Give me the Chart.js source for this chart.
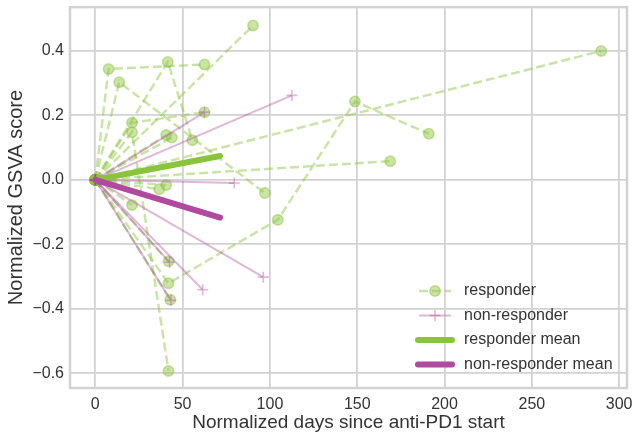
<!DOCTYPE html>
<html><head><meta charset="utf-8">
<script src="https://cdn.jsdelivr.net/npm/chart.js@4.4.1/dist/chart.umd.min.js"></script>
<style>html,body{margin:0;padding:0;background:#fff}#wrap{width:636px;height:442px}</style>
</head><body><div id="wrap"><canvas id="c" width="636" height="442"></canvas></div>
<script>
// ---- data ----
const responderDays = [
  [0, 7.6, 62.5],
  [0, 13.7, 97.1],
  [0, 41.5, 55.6],
  [0, 21.0, 62.5],
  [0, 21.0, 41.9],
  [0, 90.3],
  [0, 289.7],
  [0, 168.9],
  [0, 41.9, 104.5, 148.7, 191.0],
  [0, 40.6],
  [0, 43.8],
  [0, 40.6],
  [0, 36.6],
  [0, 21.0],
  [0, 41.9],
  [0, 42.9]
];
const responderScores = [
  [0, 0.344, 0.358],
  [0, 0.303, -0.041],
  [0, 0.366, 0.123],
  [0, 0.177, 0.210],
  [0, 0.148, -0.593],
  [0, 0.479],
  [0, 0.400],
  [0, 0.058],
  [0, -0.321, -0.124, 0.243, 0.143],
  [0, 0.139],
  [0, 0.131],
  [0, -0.016],
  [0, -0.029],
  [0, -0.078],
  [0, -0.253],
  [0, -0.372]
];
const nonResponderDays = [[0, 62.5], [0, 112.6], [0, 79.6], [0, 61.5], [0, 96.2], [0, 42.5], [0, 43.3]];
const nonResponderScores = [[0, 0.210], [0, 0.262], [0, -0.010], [0, -0.341], [0, -0.302], [0, -0.256], [0, -0.374]];
const meanDays = [0, 71.4];
const responderMeanScores = [0, 0.074];
const nonResponderMeanScores = [0, -0.117];
const xTicks = [0, 50, 100, 150, 200, 250, 300];
const xTickLabels = ['0', '50', '100', '150', '200', '250', '300'];
const yTicks = [-0.6, -0.4, -0.2, 0.0, 0.2, 0.4];
const yTickLabels = ['\u22120.6', '\u22120.4', '\u22120.2', '0.0', '0.2', '0.4'];
const legendLabels = ['responder', 'non-responder', 'responder mean', 'non-responder mean'];
const xTitle = 'Normalized days since anti-PD1 start';
const yTitle = 'Normalized GSVA score';

// ---- styles ----
const GREEN = 'rgb(137,196,60)';
const GREEN_A = 'rgba(137,196,60,0.45)';
const PURPLE = 'rgb(176,74,158)';
const PURPLE_A = 'rgba(176,74,158,0.4)';
const GRID = '#d2d2d2';
const TEXT = '#333333';
const FONT = "'Liberation Sans', Arial, Helvetica, sans-serif";

const toPts = (xs, ys) => xs.map((x, i) => ({x: x, y: ys[i]}));
const datasets = [];
responderDays.forEach((d, i) => datasets.push({
  label: 'responder', data: toPts(d, responderScores[i]), showLine: true,
  borderColor: GREEN_A, backgroundColor: GREEN_A, borderWidth: 2.5, borderDash: [9, 4],
  pointStyle: 'circle', pointRadius: 5.2, pointBorderWidth: 1.6,
  pointBackgroundColor: GREEN_A, pointBorderColor: GREEN_A, order: 3
}));
nonResponderDays.forEach((d, i) => datasets.push({
  label: 'non-responder', data: toPts(d, nonResponderScores[i]), showLine: true,
  borderColor: PURPLE_A, backgroundColor: PURPLE_A, borderWidth: 2,
  pointStyle: 'cross', pointRadius: 5.5, pointBorderWidth: 1.6,
  pointBorderColor: PURPLE_A, order: 2
}));
datasets.push({label: 'responder mean', data: toPts(meanDays, responderMeanScores), showLine: true,
  borderColor: GREEN, borderWidth: 6, borderCapStyle: 'round', pointRadius: 0, order: 1});
datasets.push({label: 'non-responder mean', data: toPts(meanDays, nonResponderMeanScores), showLine: true,
  borderColor: PURPLE, borderWidth: 6, borderCapStyle: 'round', pointRadius: 0, order: 0});

const framePlugin = {
  id: 'frame',
  afterDraw(chart) {
    const {ctx, chartArea: a} = chart;
    ctx.save();
    ctx.strokeStyle = GRID; ctx.lineWidth = 2.5;
    ctx.strokeRect(a.left, a.top, a.right - a.left, a.bottom - a.top);
    ctx.restore();
  }
};
const legendPlugin = {
  id: 'customLegend',
  afterDraw(chart) {
    const ctx = chart.ctx;
    ctx.save();
    const x0 = 419, x1 = 451, tx = 464;
    const ys = [291, 315.5, 340, 364.5];
    // responder
    ctx.strokeStyle = GREEN_A; ctx.lineWidth = 2.5; ctx.setLineDash([9, 4]);
    ctx.beginPath(); ctx.moveTo(x0, ys[0]); ctx.lineTo(x1, ys[0]); ctx.stroke();
    ctx.setLineDash([]);
    ctx.fillStyle = GREEN_A; ctx.lineWidth = 1.6;
    ctx.beginPath(); ctx.arc((x0 + x1) / 2, ys[0], 5.2, 0, Math.PI * 2); ctx.fill(); ctx.stroke();
    // non-responder
    ctx.strokeStyle = PURPLE_A; ctx.lineWidth = 2;
    ctx.beginPath(); ctx.moveTo(x0, ys[1]); ctx.lineTo(x1, ys[1]); ctx.stroke();
    ctx.lineWidth = 1.6; const cx = (x0 + x1) / 2;
    ctx.beginPath(); ctx.moveTo(cx - 5.5, ys[1]); ctx.lineTo(cx + 5.5, ys[1]);
    ctx.moveTo(cx, ys[1] - 5.5); ctx.lineTo(cx, ys[1] + 5.5); ctx.stroke();
    // means
    ctx.lineCap = 'round'; ctx.lineWidth = 6;
    ctx.strokeStyle = GREEN; ctx.beginPath(); ctx.moveTo(x0 - 1, ys[2]); ctx.lineTo(x1 + 1, ys[2]); ctx.stroke();
    ctx.strokeStyle = PURPLE; ctx.beginPath(); ctx.moveTo(x0 - 1, ys[3]); ctx.lineTo(x1 + 1, ys[3]); ctx.stroke();
    // text
    ctx.fillStyle = TEXT; ctx.font = '16px ' + FONT; ctx.textBaseline = 'middle'; ctx.textAlign = 'left';
    legendLabels.forEach((t, i) => ctx.fillText(t, tx, ys[i]));
    ctx.restore();
  }
};

const noPad = s => { s.paddingTop = 0; s.paddingBottom = 0; s.paddingLeft = 0; s.paddingRight = 0; };

new Chart(document.getElementById('c'), {
  type: 'scatter',
  data: {datasets: datasets},
  plugins: [framePlugin, legendPlugin],
  options: {
    responsive: false, animation: false, devicePixelRatio: 1, events: [],
    layout: {padding: {left: 0, top: 6, right: 9, bottom: 0}},
    plugins: {legend: {display: false}, tooltip: {enabled: false}},
    scales: {
      x: {
        type: 'linear', min: -14.5, max: 304.5,
        afterBuildTicks: s => { s.ticks = xTicks.map(v => ({value: v})); },
        afterFit: s => { s.height = 54; noPad(s); },
        grid: {color: GRID, lineWidth: 1.8, drawTicks: false},
        border: {display: false},
        ticks: {padding: 7, color: TEXT, font: {family: FONT, size: 16}, maxRotation: 0, autoSkip: false,
          callback: (v, i) => xTickLabels[i]},
        title: {display: true, text: xTitle, color: TEXT, font: {family: FONT, size: 19}, padding: {top: 0, bottom: 8}}
      },
      y: {
        type: 'linear', min: -0.646, max: 0.536,
        afterBuildTicks: s => { s.ticks = yTicks.map(v => ({value: v})); },
        afterFit: s => { s.width = 70; noPad(s); },
        grid: {color: GRID, lineWidth: 1.8, drawTicks: false},
        border: {display: false},
        ticks: {padding: 6, color: TEXT, font: {family: FONT, size: 16}, autoSkip: false,
          callback: (v, i) => yTickLabels[i]},
        title: {display: true, text: yTitle, color: TEXT, font: {family: FONT, size: 20}, padding: {top: 4, bottom: 0}}
      }
    }
  }
});
</script></body></html>
